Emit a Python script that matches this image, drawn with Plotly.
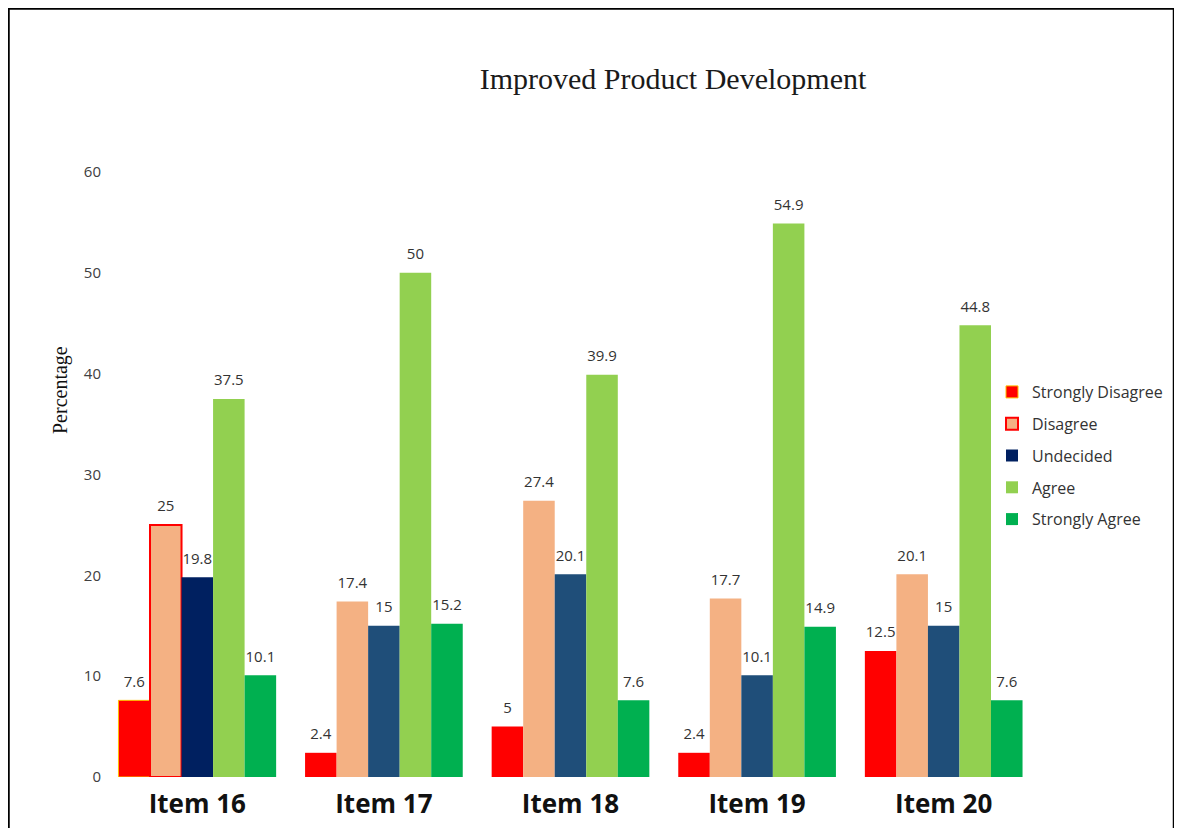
import plotly.graph_objects as go

categories = ["Item 16", "Item 17", "Item 18", "Item 19", "Item 20"]
series_names = ["Strongly Disagree", "Disagree", "Undecided", "Agree", "Strongly Agree"]
strongly_disagree = [7.6, 2.4, 5, 2.4, 12.5]
disagree = [25, 17.4, 27.4, 17.7, 20.1]
undecided = [19.8, 15, 20.1, 10.1, 15]
agree = [37.5, 50, 39.9, 54.9, 44.8]
strongly_agree = [10.1, 15.2, 7.6, 14.9, 7.6]
y_ticks = [0, 10, 20, 30, 40, 50, 60]

values = [strongly_disagree, disagree, undecided, agree, strongly_agree]
colors = [
    ["#FF0000"] * 5,
    ["#F4B183"] * 5,
    ["#002060", "#1F4E79", "#1F4E79", "#1F4E79", "#1F4E79"],
    ["#92D050"] * 5,
    ["#00B050"] * 5,
]
line_colors = [
    ["#FFC000"] * 5,
    ["#FF0000", "#F4B183", "#F4B183", "#F4B183", "#F4B183"],
    ["#002060", "#1F4E79", "#1F4E79", "#1F4E79", "#1F4E79"],
    ["#92D050"] * 5,
    ["#00B050"] * 5,
]
line_widths = [
    [1, 0, 0, 0, 0],
    [2, 0, 0, 0, 0],
    [0] * 5,
    [0] * 5,
    [0] * 5,
]

GAP = 0.155
fig = go.Figure()
for i, name in enumerate(series_names):
    fig.add_trace(go.Bar(
        name=name,
        x=categories,
        y=values[i],
        marker=dict(color=colors[i], line=dict(color=line_colors[i], width=line_widths[i])),
        legendgroup=name,
        offsetgroup=str(i),
    ))
# value labels, aligned with the grouped bars
for i, name in enumerate(series_names):
    fig.add_trace(go.Scatter(
        name=name + " label",
        x=categories,
        y=values[i],
        mode="markers+text",
        marker=dict(size=14, color="rgba(0,0,0,0)"),
        text=[str(v) for v in values[i]],
        textposition="top center",
        textfont=dict(family="Open Sans, DejaVu Sans, sans-serif", size=15, color="#333333"),
        cliponaxis=False,
        showlegend=False,
        hoverinfo="skip",
        offsetgroup=str(i),
    ))

# page body has an 8px margin; work in reference pixel coordinates
OFF = 8
W, H = 1182 - 2 * OFF, 836 - 2 * OFF
L_px, R_px, T_px, B_px = 104, 1037, 172, 777
l = L_px - OFF
t = T_px - OFF
r = W - (R_px - OFF)
b = H - (B_px - OFF)
pw, ph = R_px - L_px, B_px - T_px

def px2x(px):
    return (px - L_px) / pw

def px2y(py):
    return (B_px - py) / ph

fig.update_layout(
    width=W, height=H,
    margin=dict(l=l, r=r, t=t, b=b, autoexpand=False),
    barmode="group",
    scattermode="group",
    bargap=GAP,
    scattergap=GAP,
    bargroupgap=0,
    plot_bgcolor="white",
    paper_bgcolor="white",
    title=dict(
        text="Improved Product Development",
        x=(673 - OFF) / W, xanchor="center",
        y=1 - (78 - OFF) / H, yanchor="middle", yref="container",
        font=dict(family="Liberation Serif, Times New Roman, serif", size=30, color="#1a1a1a"),
    ),
    xaxis=dict(
        tickfont=dict(family="Open Sans, DejaVu Sans, sans-serif", size=26, color="#111111", weight="bold"),
        showgrid=False, showline=False, ticks="", zeroline=False,
        ticklabelstandoff=9, automargin=False,
    ),
    yaxis=dict(
        range=[0, 60],
        tickvals=y_ticks,
        tickfont=dict(family="Open Sans, DejaVu Sans, sans-serif", size=15, color="#404040"),
        showgrid=False, showline=False, zeroline=False, ticks="",
        ticklabelstandoff=2, automargin=False,
    ),
    legend=dict(
        x=px2x(992), y=px2y(375), xanchor="left", yanchor="top",
        font=dict(family="Open Sans, DejaVu Sans, sans-serif", size=16, color="#333333"),
        tracegroupgap=8,
        itemwidth=30,
        bgcolor="rgba(0,0,0,0)",
    ),
    showlegend=True,
    annotations=[dict(
        text="Percentage", textangle=-90,
        xref="paper", yref="paper", x=px2x(60), y=px2y(390),
        xanchor="center", yanchor="middle", showarrow=False,
        font=dict(family="Liberation Serif, Times New Roman, serif", size=20, color="#111111"),
    )],
    shapes=[dict(
        type="rect", xref="paper", yref="paper",
        x0=px2x(8.5), x1=px2x(1174), y0=px2y(860), y1=px2y(8.5),
        line=dict(color="#000000", width=2.5), fillcolor="rgba(0,0,0,0)", layer="below",
    )],
)

fig.write_html("out.html")
